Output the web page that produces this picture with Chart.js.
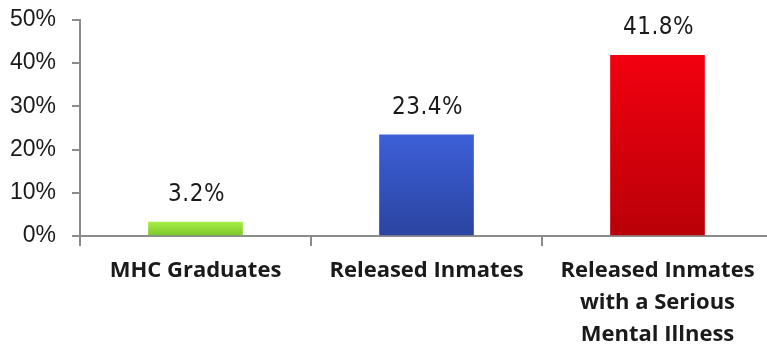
<!DOCTYPE html>
<html lang="en">
<head>
    <meta charset="UTF-8">
    <title>Recidivism Rates</title>
    <script src="https://cdn.jsdelivr.net/npm/chart.js"></script>
    <style>
        html, body { margin: 0; padding: 0; background: #fff; overflow: hidden; }
        /* slightly wider than the window so the last category runs off the edge like the original */
        #wrap { width: 773px; height: 355px; margin-top: -10px; position: relative; }
    </style>
</head>
<body>
<div id="wrap"><canvas id="rateChart"></canvas></div>

<script>
    // chart data
    const categories = [
        ['MHC Graduates'],
        ['Released Inmates'],
        ['Released Inmates', 'with a Serious', 'Mental Illness']
    ];
    const rates = [3.2, 23.4, 41.8];
    const rateLabels = ['3.2%', '23.4%', '41.8%'];
    const yTicks = [0, 10, 20, 30, 40, 50];

    // top / bottom colour of each bar gradient
    const topColors = ['#a6ec45', '#3d5fd8', '#f2000f'];
    const bottomColors = ['#7cc62c', '#2a44a0', '#b90008'];

    function barFill(ctx) {
        const chart = ctx.chart;
        if (!chart.chartArea) return topColors[ctx.dataIndex];
        const y = chart.scales.y;
        const top = y.getPixelForValue(rates[ctx.dataIndex]);
        const bottom = y.getPixelForValue(0);
        const g = chart.ctx.createLinearGradient(0, top, 0, bottom);
        g.addColorStop(0, topColors[ctx.dataIndex]);
        g.addColorStop(1, bottomColors[ctx.dataIndex]);
        return g;
    }

    // draws the value text above each bar
    const valueLabels = {
        id: 'valueLabels',
        afterDatasetsDraw(chart) {
            const ctx = chart.ctx;
            const meta = chart.getDatasetMeta(0);
            ctx.save();
            ctx.font = '24px "Liberation Sans Narrow", "DejaVu Sans Condensed", sans-serif';
            ctx.fillStyle = '#1a1a1a';
            ctx.textAlign = 'center';
            ctx.textBaseline = 'middle';
            if ('letterSpacing' in ctx) ctx.letterSpacing = '0.5px';
            meta.data.forEach((bar, i) => {
                ctx.fillText(rateLabels[i], bar.x + 1, bar.y - 27);
            });
            ctx.restore();
        }
    };

    const axisGray = '#8c8c8c';

    new Chart(document.getElementById('rateChart'), {
        type: 'bar',
        data: {
            labels: categories,
            datasets: [{
                data: rates,
                backgroundColor: barFill,
                borderWidth: 0,
                barThickness: 94
            }]
        },
        options: {
            responsive: true,
            maintainAspectRatio: false,
            animation: false,
            layout: { padding: { top: 12, right: 0, bottom: 0, left: 0 } },
            plugins: {
                legend: { display: false },
                tooltip: { enabled: false }
            },
            scales: {
                x: {
                    grid: {
                        display: true,
                        drawOnChartArea: false,
                        offset: true,
                        tickLength: 10,
                        color: axisGray,
                        lineWidth: 2
                    },
                    border: { display: true, color: axisGray, width: 2 },
                    ticks: {
                        color: '#1a1a1a',
                        padding: 9,
                        maxRotation: 0,
                        font: { family: '"Open Sans", Lato, sans-serif', size: 22, weight: 'bold', lineHeight: 1.455 }
                    },
                    afterFit(scale) { scale.height = 109; }
                },
                y: {
                    min: 0,
                    max: 50,
                    afterBuildTicks(scale) {
                        scale.ticks = yTicks.map(v => ({ value: v }));
                    },
                    grid: {
                        display: true,
                        drawOnChartArea: false,
                        tickLength: 8,
                        color: axisGray,
                        lineWidth: 2
                    },
                    border: { display: true, color: axisGray, width: 2 },
                    ticks: {
                        color: '#1a1a1a',
                        padding: 16,
                        font: { family: '"Liberation Sans", Arial, sans-serif', size: 23 },
                        callback: v => v + '%'
                    },
                    afterFit(scale) { scale.width = 80; }
                }
            }
        },
        plugins: [valueLabels]
    });
</script>
</body>
</html>
